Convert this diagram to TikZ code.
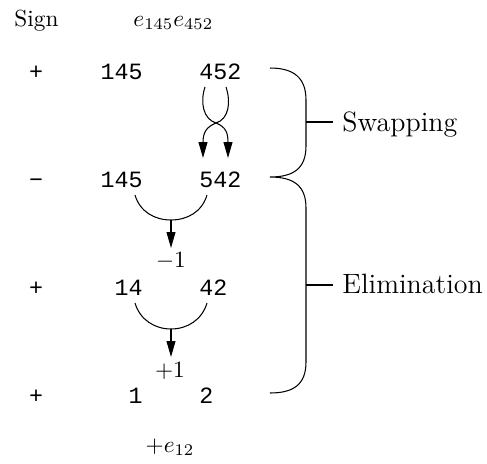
\documentclass[tikz,border=0pt]{standalone}
\usepackage{fontspec}
\newfontfamily\cour{Liberation Mono}
\usetikzlibrary{arrows.meta}
\begin{document}
\begin{tikzpicture}[x=0.4292pt,y=-0.4292pt,
  num/.style={font=\cour, inner sep=0pt},
  lnum/.style={num, anchor=base east},
  rnum/.style={num, anchor=base west},
  sgn/.style={font=\cour, inner sep=0pt, anchor=base},
  lbl/.style={inner sep=0pt, anchor=base},
  bracelabel/.style={font=\large, inner sep=0pt, anchor=base west},
  stroke/.style={line width=0.45pt},
  tip/.style={stroke, -{Triangle[length=6.8pt,width=3.8pt]}},
]
\useasboundingbox (0,0) rectangle (487,463);

% header
\node[lbl, anchor=base west] (head) at (14,26) {Sign};
\node[lbl, anchor=base west] (prod) at (133,26) {$e_{145}e_{452}$};

% rows: sign, left factor, right factor
\node[sgn] (s1) at (36,79) {+};
\node[lnum] (a1) at (143,79) {145};
\node[rnum] (b1) at (199,79) {452};

\node[sgn] (s2) at (36,187) {−};
\node[lnum] (a2) at (143,187) {145};
\node[rnum] (b2) at (199,187) {542};

\node[sgn] (s3) at (36,295) {+};
\node[lnum] (a3) at (143,295) {14};
\node[rnum] (b3) at (199,295) {42};

\node[sgn] (s4) at (36,403) {+};
\node[lnum] (a4) at (143,403) {1};
\node[rnum] (b4) at (199,403) {2};

% step factors and result
\node[lbl] (f1) at (171,267) {$-1$};
\node[lbl] (f2) at (170,377) {$+1$};
\node[lbl] (res) at (170,452) {$+e_{12}$};

% swap of 4 and 5
\coordinate (xl) at (205,87);
\coordinate (xr) at (226,87);
\coordinate (xc) at (216,123);
\coordinate (yl) at (203,158);
\coordinate (yr) at (228,158);
\draw[tip] (xl) .. controls (200,102) and (203,119) .. (xc)
  .. controls (226,127) and (228,133) .. (yr);
\draw[tip] (xr) .. controls (231,102) and (229,119) .. (xc)
  .. controls (206,127) and (203,133) .. (yl);

% first elimination: 5 with 5
\coordinate (e1l) at (135,195);
\coordinate (e1r) at (207,195);
\coordinate (e1m) at (171,220);
\draw[stroke] (e1l) .. controls (140,212) and (155,220) .. (e1m)
  .. controls (187,220) and (202,212) .. (e1r);
\draw[tip] (e1m) -- (171,248);

% second elimination: 4 with 4
\coordinate (e2l) at (135,303);
\coordinate (e2r) at (207,303);
\coordinate (e2m) at (171,329);
\draw[stroke] (e2l) .. controls (140,320) and (155,329) .. (e2m)
  .. controls (187,329) and (202,320) .. (e2r);
\draw[tip] (e2m) -- (171,357);

% braces
\coordinate (t1) at (270,68);
\coordinate (t2) at (270,177);
\coordinate (t3) at (270,393);
\draw[stroke] (t1) .. controls (294,68) and (306,78) .. (306,100)
  -- (306,146) .. controls (306,168) and (294,177) .. (t2)
  .. controls (294,177) and (306,186) .. (306,208)
  -- (306,362) .. controls (306,384) and (294,393) .. (t3);

\node[bracelabel] (swap) at (342,131) {Swapping};
\node[bracelabel] (elim) at (342,293) {Elimination};
\coordinate (k1) at (306,122);
\coordinate (k2) at (306,285);
\draw[stroke] (k1) -- ++(27,0);
\draw[stroke] (k2) -- ++(27,0);
\end{tikzpicture}
\end{document}
